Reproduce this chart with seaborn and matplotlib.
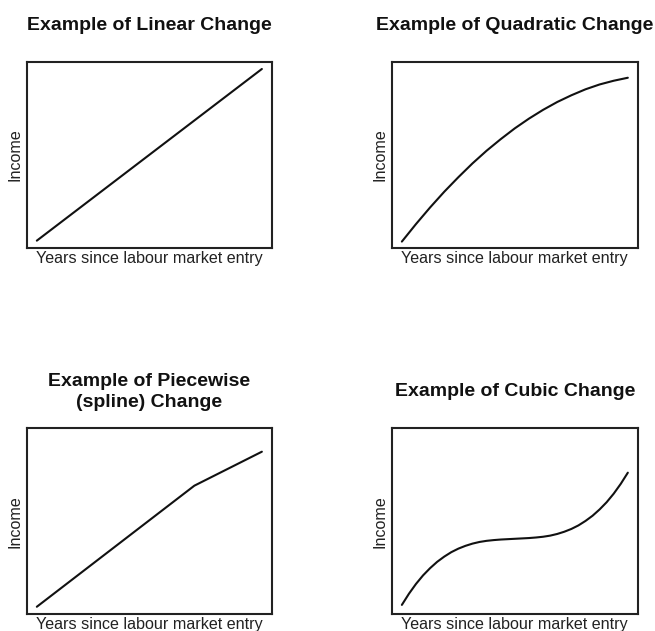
import matplotlib
matplotlib.use("Agg")
import matplotlib.pyplot as plt
import seaborn as sns
import pandas as pd

# ---- data (arbitrary income units 0-100) ----
years_linear = [0, 40]
income_linear = [4.1, 96.1]

years_quadratic = [0, 2.5, 5, 7.5, 10, 12.5, 15, 17.5, 20, 22.5, 25, 27.5, 30, 32.5, 35, 37.5, 40]
income_quadratic = [3.6, 13.0, 21.9, 30.3, 38.1, 45.5, 52.3, 58.5, 64.3, 69.5, 74.2, 78.4,
                    82.0, 85.2, 87.8, 89.8, 91.4]

years_cubic = [0, 1.25, 2.5, 3.75, 5, 6.25, 7.5, 8.75, 10, 11.25, 12.5, 13.75, 15, 16.25,
               17.5, 18.75, 20, 21.25, 22.5, 23.75, 25, 26.25, 27.5, 28.75, 30, 31.25,
               32.5, 33.75, 35, 36.25, 37.5, 38.75, 40]
income_cubic = [4.9, 10.9, 16.2, 20.8, 24.7, 28.1, 30.9, 33.3, 35.2, 36.7, 37.9, 38.8,
                39.4, 39.8, 40.1, 40.3, 40.5, 40.7, 40.9, 41.2, 41.6, 42.2, 43.1, 44.3,
                45.8, 47.7, 50.1, 52.9, 56.3, 60.2, 64.8, 70.1, 76.1]

years_piecewise = [0, 28, 40]
income_piecewise = [3.9, 69.1, 87.4]

titles = ["Example of Linear Change", "Example of Quadratic Change",
          "Example of Piecewise\n(spline) Change", "Example of Cubic Change"]
xlabel = "Years since labour market entry"
ylabel = "Income"

sns.set_theme(style="white")
plt.rcParams["font.family"] = ["Liberation Sans", "DejaVu Sans"]

fig = plt.figure(figsize=(6.55, 6.31), dpi=100)
W, H = 655, 631
boxes = [(26.7, 61.7, 272.0, 248.3), (391.7, 61.7, 638.0, 248.3),
         (26.7, 428.3, 272.0, 614.0), (391.7, 428.3, 638.0, 614.0)]
pads = [22.5, 22.5, 15.5, 23.5]

panels = [
    pd.DataFrame({"x": years_linear, "y": income_linear}),
    pd.DataFrame({"x": years_quadratic, "y": income_quadratic}),
    pd.DataFrame({"x": years_piecewise, "y": income_piecewise}),
    pd.DataFrame({"x": years_cubic, "y": income_cubic}),
]

for (l, t, r, b), df, title, pad in zip(boxes, panels, titles, pads):
    ax = fig.add_axes([l / W, 1 - b / H, (r - l) / W, (b - t) / H])
    sns.lineplot(data=df, x="x", y="y", ax=ax, color="#111111", linewidth=1.5)
    ax.set_xlim(-1.8, 41.8)
    ax.set_ylim(0, 100)
    ax.set_xticks([])
    ax.set_yticks([])
    for s in ax.spines.values():
        s.set_visible(True)
        s.set_color("#222222")
        s.set_linewidth(1.5)
    ax.set_title(title, fontsize=14, fontweight="bold", color="#111111", pad=pad,
                 linespacing=1.3)
    ax.set_xlabel(xlabel, fontsize=11.6, color="#222222", labelpad=2)
    ax.set_ylabel(ylabel, fontsize=11.6, color="#222222", labelpad=3)

fig.savefig("out.png", dpi=100)
